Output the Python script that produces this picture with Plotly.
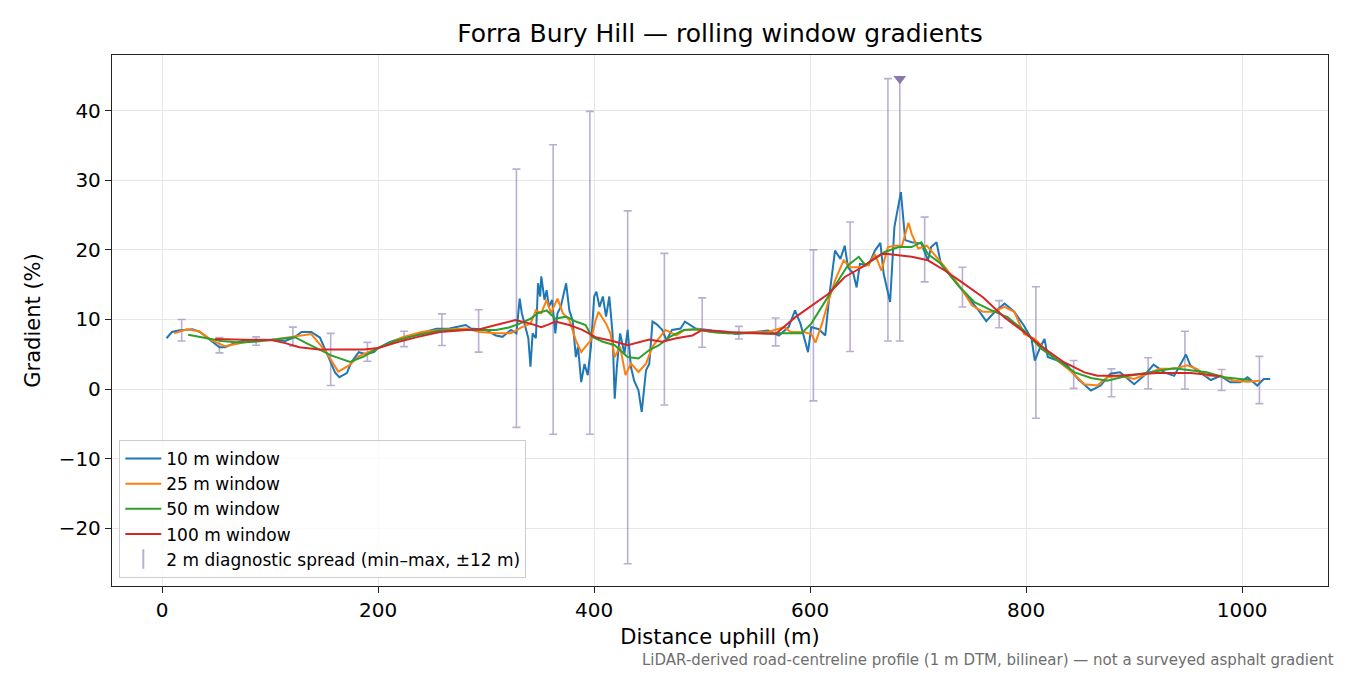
import plotly.graph_objects as go

# 10 m rolling window
x10 = [4, 9, 15, 28, 35, 43, 53, 58, 67, 77, 86, 102, 114, 123, 129, 138, 146, 154, 160, 164,
       171, 175, 182, 189, 196, 200, 210, 219, 231, 243, 254, 266, 281, 286, 294, 301, 309, 315,
       323, 328, 331, 333, 337, 339, 341, 343, 346, 348, 350, 351, 354, 356, 358, 361, 364, 366,
       369, 371, 374, 377, 380, 383, 385, 388, 391, 394, 397, 400, 402, 405, 408, 411, 414, 417,
       419, 421, 424, 428, 431, 434, 437, 441, 444, 448, 451, 454, 458, 463, 467, 472, 480, 484,
       494, 509, 524, 531, 546, 561, 571, 580, 586, 591, 598, 601, 608, 614, 618, 623, 628, 632,
       635, 640, 643, 646, 654, 660, 665, 668, 674, 678, 684, 688, 694, 703, 709, 712, 717, 721,
       731, 737, 746, 755, 763, 771, 780, 789, 798, 805, 808, 813, 817, 820, 829, 838, 848, 860,
       869, 878, 887, 900, 909, 918, 928, 937, 943, 948, 952, 961, 971, 980, 989, 998, 1005, 1014,
       1020, 1026]
g10 = [7.3, 8.2, 8.4, 8.6, 8.2, 7.2, 6.0, 6.0, 6.6, 7.0, 7.1, 7.1, 6.9, 7.5, 8.2, 8.2, 7.4, 4.6, 2.4, 1.7,
       2.3, 3.8, 5.3, 5.0, 5.3, 5.9, 6.7, 7.2, 7.7, 8.3, 8.65, 8.7, 9.2, 8.7, 8.6, 8.4, 7.7, 7.5,
       8.5, 8.0, 13.0, 10.9, 8.5, 7.3, 3.2, 8.0, 7.3, 15.2, 13.3, 16.2, 12.8, 14.2, 11.8, 12.8, 8.0, 10.9,
       11.8, 13.3, 15.2, 11.3, 9.9, 4.6, 6.1, 1.0, 3.6, 2.0, 6.1, 13.3, 14.0, 11.8, 13.3, 10.4, 13.3, 8.0,
       -1.4, 3.2, 8.0, 5.1, 8.5, 3.2, 1.2, -0.2, -3.3, 2.7, 3.6, 9.7, 9.3, 8.5, 7.0, 8.5, 8.7, 9.7,
       8.7, 8.4, 8.2, 7.9, 8.2, 8.4, 7.7, 8.9, 11.3, 9.4, 5.3, 8.9, 8.6, 7.7, 13.7, 19.9, 18.7, 20.6,
       17.5, 16.6, 14.6, 18.0, 17.8, 19.9, 21.0, 16.6, 12.5, 23.3, 28.3, 21.4, 21.1, 20.9, 18.5, 20.4, 21.1, 18.0,
       16.1, 15.0, 13.2, 11.5, 9.75, 11.1, 12.3, 11.1, 9.1, 7.2, 4.1, 6.0, 7.2, 4.6, 4.1, 3.4, 1.45, -0.2,
       0.5, 2.2, 2.4, 0.7, 1.9, 3.5, 2.4, 1.9, 3.6, 4.95, 3.4, 2.4, 1.3, 1.9, 0.96, 0.96, 1.7, 0.5,
       1.45, 1.45]

# 25 m rolling window
x25 = [11, 23, 34, 46, 58, 71, 86, 102, 117, 127, 138, 151, 163, 173, 182, 194, 206, 222, 240, 257,
       281, 294, 309, 323, 333, 341, 346, 351, 356, 360, 366, 371, 377, 383, 388, 392, 397, 401, 404,
       411, 415, 419, 424, 429, 434, 441, 448, 454, 460, 466, 476, 484, 497, 509, 524, 561, 576, 582,
       594, 601, 605, 611, 617, 623, 631, 637, 645, 654, 660, 666, 672, 678, 685, 691, 694, 700, 708,
       717, 725, 737, 750, 760, 769, 780, 789, 798, 808, 817, 829, 841, 854, 866, 875, 887, 900, 912,
       924, 937, 949, 958, 967, 980, 992, 1005, 1017]
g25 = [8.0, 8.6, 8.3, 7.0, 6.15, 6.5, 7.0, 7.1, 7.4, 7.7, 7.9, 5.5, 2.5, 3.4, 4.7, 5.5, 6.25, 7.4, 8.2, 8.5,
       8.7, 8.2, 8.0, 8.0, 8.9, 9.4, 11.3, 10.9, 12.8, 10.9, 13.0, 10.9, 9.9, 7.0, 5.3, 6.1, 7.0, 9.7, 11.1,
       9.4, 8.0, 4.6, 6.1, 2.0, 3.65, 2.45, 3.65, 6.1, 7.3, 8.5, 7.7, 8.5, 8.6, 8.2, 8.0, 8.2, 8.9, 8.2,
       8.2, 7.9, 6.7, 9.4, 12.7, 15.6, 18.5, 17.5, 17.5, 17.8, 19.4, 17.0, 20.4, 20.6, 20.6, 23.9, 22.3, 20.2, 20.6,
       19.0, 17.5, 15.1, 12.0, 11.1, 11.1, 11.8, 11.1, 7.9, 7.2, 5.8, 4.1, 2.6, 0.7, 0.5, 1.7, 1.9, 1.45, 2.2,
       2.9, 2.9, 3.4, 2.9, 1.9, 1.9, 1.2, 1.05, 1.2]

# 50 m rolling window
x50 = [24, 40, 55, 71, 86, 102, 123, 132, 145, 157, 174, 187, 200, 215, 231, 257, 281, 294, 309, 321,
       331, 341, 348, 356, 364, 374, 383, 392, 398, 408, 419, 431, 441, 451, 460, 470, 483, 494, 509,
       524, 592, 601, 614, 626, 635, 645, 651, 660, 669, 682, 694, 703, 709, 721, 737, 752, 768, 783,
       798, 814, 829, 845, 860, 875, 891, 906, 921, 937, 952, 967, 983, 998, 1007]
g50 = [7.8, 7.3, 6.9, 6.7, 6.8, 7.1, 7.45, 6.7, 5.7, 4.8, 3.9, 4.7, 5.9, 6.9, 7.55, 8.4, 8.5, 8.5, 8.5, 8.85,
       9.4, 10.1, 10.9, 11.3, 10.1, 10.4, 9.7, 9.2, 7.5, 6.8, 6.3, 4.6, 4.4, 5.6, 6.3, 7.5, 8.5, 8.6, 8.2,
       8.0, 8.0, 9.4, 12.7, 15.6, 17.8, 19.0, 17.8, 18.7, 19.7, 20.4, 20.4, 21.1, 19.4, 18.0, 14.9, 12.5, 11.3, 10.3,
       8.4, 5.8, 4.1, 2.4, 1.6, 1.2, 1.8, 2.2, 2.6, 3.0, 2.7, 2.4, 1.7, 1.45, 1.3]

# 100 m rolling window
x100 = [49, 77, 102, 114, 127, 145, 169, 187, 200, 219, 237, 257, 281, 294, 309, 327, 341, 351, 358, 364,
        377, 389, 402, 417, 431, 444, 451, 463, 476, 491, 500, 524, 568, 586, 601, 617, 632, 648, 657,
        666, 672, 682, 694, 709, 725, 740, 760, 780, 798, 817, 835, 854, 866, 885, 903, 921, 952, 967, 980]
g100 = [7.2, 7.1, 7.0, 6.6, 6.0, 5.7, 5.7, 5.7, 5.9, 6.8, 7.5, 8.2, 8.5, 8.6, 9.2, 9.9, 9.4, 8.9, 9.3, 9.7,
        9.2, 8.5, 7.4, 6.9, 6.3, 6.8, 7.1, 6.8, 7.3, 7.7, 8.5, 8.2, 7.9, 10.3, 11.9, 13.7, 16.1, 17.5, 18.5,
        19.4, 19.4, 19.2, 19.0, 18.5, 17.0, 15.4, 13.2, 10.3, 8.2, 5.8, 3.85, 2.4, 1.9, 1.9, 2.1, 2.3, 2.3, 2.1, 1.8]

# 2 m diagnostic spread (min-max within +-12 m)
spread_x = [18, 53, 87, 121, 156, 190, 224, 259, 293, 328, 362, 396, 431, 465, 500, 534, 568, 603, 637, 672,
            683, 706, 741, 775, 809, 844, 879, 913, 947, 981, 1016]
spread_min = [6.9, 5.2, 6.3, 6.2, 0.5, 4.0, 6.1, 6.25, 5.3, -5.5, -6.5, -6.5, -25.1, -2.3, 6.0, 7.2, 6.2, -1.7, 5.4, 6.9,
              6.9, 15.4, 11.8, 8.8, -4.2, 0.1, -1.1, 0.05, 0.0, -0.2, -2.1]
spread_max = [10.0, 7.4, 7.5, 8.9, 8.0, 6.7, 8.3, 10.8, 11.4, 31.6, 35.1, 39.9, 25.6, 19.5, 13.1, 9.0, 10.2, 20.0, 24.0, 44.6,
              44.6, 24.7, 17.5, 12.7, 14.7, 4.1, 2.9, 4.5, 8.3, 2.8, 4.7]

# steepest 2 m reading
peak_x = [683]
peak_g = [44.6]

SPREAD_COL = "rgba(140,120,180,0.6)"
FONT = "DejaVu Sans"

fig = go.Figure()

# spread bars drawn from min up to max
fig.add_trace(go.Scatter(
    x=spread_x, y=spread_min, mode="markers",
    marker=dict(size=1, opacity=0),
    error_y=dict(type="data", symmetric=False,
                 array=[hi - lo for lo, hi in zip(spread_min, spread_max)],
                 arrayminus=[0] * len(spread_x),
                 color=SPREAD_COL, thickness=1.6, width=4),
    showlegend=False, hoverinfo="skip"
))
fig.add_trace(go.Scatter(
    x=peak_x, y=peak_g, mode="markers",
    marker=dict(symbol="triangle-down", size=11, color="#8878ad"),
    showlegend=False
))

series = [
    ("10 m window", x10, g10, "#1f77b4"),
    ("25 m window", x25, g25, "#ff7f0e"),
    ("50 m window", x50, g50, "#2ca02c"),
    ("100 m window", x100, g100, "#d62728"),
]
for name, xs, ys, col in series:
    fig.add_trace(go.Scatter(x=xs, y=ys, mode="lines", name=name,
                             line=dict(color=col, width=2)))

# legend entry for the spread bars
fig.add_trace(go.Scatter(
    x=[None], y=[None], mode="markers",
    name="2 m diagnostic spread (min\u2013max, \u00b112 m)",
    marker=dict(symbol="line-ns-open", size=14, color=SPREAD_COL,
                line=dict(color=SPREAD_COL, width=2))
))

axis_common = dict(
    showline=True, linecolor="#222222", linewidth=1.3, mirror=True,
    showgrid=True, gridcolor="#e6e6e6", gridwidth=1.2, zeroline=False,
    ticks="outside", ticklen=6, tickwidth=1.2, tickcolor="#222222",
    tickfont=dict(family=FONT, size=20, color="#000000"),
)

# the page body adds an 8 px offset, so margins are shifted to keep the plot box in place
fig.update_layout(
    width=1350, height=675,
    paper_bgcolor="white", plot_bgcolor="white",
    margin=dict(l=104, r=30, t=47, b=97),
    font=dict(family=FONT, color="#000000"),
    title=dict(text="Forra Bury Hill \u2014 rolling window gradients",
               x=0.5, xref="paper", y=1 - 25 / 675, yref="container",
               xanchor="center", yanchor="middle",
               font=dict(family=FONT, size=25, color="#000000")),
    xaxis=dict(range=[-46.5, 1079.5], tickvals=[0, 200, 400, 600, 800, 1000],
               title=dict(text="Distance uphill (m)", standoff=8,
                          font=dict(family=FONT, size=21)),
               **axis_common),
    yaxis=dict(range=[-28.3, 48.0], tickvals=[-20, -10, 0, 10, 20, 30, 40],
               title=dict(text="Gradient (%)", standoff=12,
                          font=dict(family=FONT, size=21)),
               **axis_common),
    legend=dict(x=0.006, y=0.015, xanchor="left", yanchor="bottom",
                bgcolor="rgba(255,255,255,0.8)", bordercolor="#cccccc", borderwidth=1,
                font=dict(family=FONT, size=17), itemwidth=36, tracegroupgap=0),
    annotations=[dict(
        text="LiDAR-derived road-centreline profile (1 m DTM, bilinear) \u2014 not a surveyed asphalt gradient",
        xref="paper", yref="paper", x=(1336 - 112) / 1216, y=(586 - 660) / 531,
        xanchor="right", yanchor="middle", showarrow=False,
        font=dict(family=FONT, size=15, color="#6e6e6e"))],
)

fig.write_html("out.html")
